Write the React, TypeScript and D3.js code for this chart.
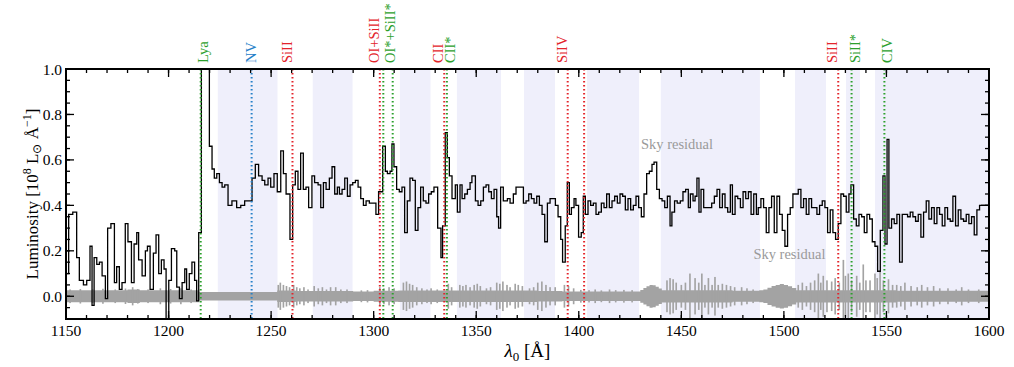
import React from "react";
import * as d3 from "d3";

const W = 1014;
const H = 367;
const M = { left: 66, right: 25, top: 69, bottom: 48 };

// binned spectrum: start wavelength of each bin [Å] and luminosity [1e8 Lsun/Å]
const specWave = [
  1150.0, 1151.3, 1153.3, 1155.2, 1156.5, 1158.5, 1160.1, 1161.7, 1162.7, 1163.7,
  1165.0, 1166.3, 1167.6, 1169.2, 1170.3, 1171.9, 1173.6, 1174.7, 1176.0, 1177.3,
  1178.9, 1180.2, 1181.9, 1183.2, 1184.5, 1185.4, 1187.1, 1188.7, 1189.7, 1191.0,
  1192.6, 1193.9, 1195.2, 1196.5, 1197.8, 1198.8, 1200.1, 1201.4, 1203.0, 1204.0,
  1205.3, 1206.6, 1207.9, 1208.8, 1210.1, 1211.4, 1212.7, 1213.7, 1214.7, 1216.0,
  1219.9, 1221.2, 1222.3, 1223.5, 1224.8, 1226.1, 1227.4, 1229.0, 1230.9, 1233.2,
  1235.2, 1237.1, 1239.1, 1240.7, 1242.3, 1243.9, 1245.6, 1246.9, 1248.5, 1249.8,
  1251.4, 1253.0, 1254.7, 1256.0, 1257.3, 1259.2, 1260.5, 1261.8, 1263.1, 1264.4,
  1265.7, 1267.0, 1268.3, 1269.9, 1271.2, 1272.9, 1274.2, 1275.5, 1276.8, 1278.4,
  1279.7, 1281.0, 1282.3, 1283.3, 1284.6, 1285.9, 1287.2, 1288.5, 1289.8, 1291.1,
  1292.4, 1293.7, 1295.0, 1296.3, 1297.9, 1299.5, 1301.1, 1302.4, 1304.4, 1305.7,
  1306.7, 1308.0, 1308.9, 1309.9, 1311.2, 1312.5, 1313.8, 1315.1, 1316.4, 1317.7,
  1319.0, 1320.3, 1321.6, 1322.9, 1324.2, 1325.5, 1326.8, 1328.1, 1329.4, 1331.2,
  1332.8, 1333.6, 1334.9, 1335.9, 1336.9, 1338.2, 1339.8, 1340.8, 1342.1, 1343.1,
  1344.4, 1345.7, 1347.0, 1347.9, 1349.6, 1350.9, 1352.2, 1353.5, 1354.8, 1356.1,
  1357.4, 1358.7, 1360.0, 1360.9, 1361.9, 1363.2, 1365.2, 1366.5, 1368.1, 1369.4,
  1373.0, 1374.3, 1375.6, 1376.9, 1378.2, 1379.5, 1380.8, 1382.1, 1383.4, 1384.7,
  1386.0, 1387.3, 1388.6, 1389.9, 1391.2, 1392.1, 1393.4, 1394.4, 1395.4, 1396.4,
  1397.7, 1398.6, 1399.9, 1401.2, 1402.2, 1403.2, 1404.5, 1405.8, 1407.1, 1408.4,
  1409.7, 1411.0, 1412.3, 1413.6, 1414.9, 1416.2, 1417.5, 1418.8, 1420.1, 1421.4,
  1422.7, 1424.0, 1425.3, 1426.6, 1427.9, 1429.2, 1430.5, 1431.8, 1433.1, 1434.4,
  1435.7, 1436.7, 1438.0, 1439.3, 1440.6, 1441.9, 1443.2, 1444.5, 1445.4, 1446.7,
  1448.0, 1449.5, 1450.8, 1452.1, 1453.4, 1454.4, 1455.7, 1456.7, 1457.6, 1458.6,
  1459.6, 1460.9, 1462.2, 1463.5, 1464.8, 1466.1, 1467.4, 1468.7, 1470.0, 1471.3,
  1472.6, 1473.9, 1474.9, 1476.2, 1477.5, 1478.8, 1480.1, 1481.4, 1482.7, 1484.0,
  1485.3, 1486.6, 1487.5, 1488.8, 1490.1, 1491.4, 1492.7, 1494.0, 1495.3, 1496.6,
  1497.9, 1499.2, 1500.5, 1501.8, 1503.1, 1504.4, 1505.7, 1507.0, 1508.3, 1509.6,
  1510.9, 1512.2, 1513.5, 1514.8, 1516.1, 1517.4, 1518.7, 1520.0, 1521.3, 1522.6,
  1523.9, 1525.2, 1526.5, 1527.8, 1529.1, 1530.4, 1531.7, 1532.7, 1534.0, 1535.3,
  1536.6, 1537.9, 1539.2, 1540.5, 1541.8, 1543.1, 1544.4, 1545.7, 1547.0, 1548.3,
  1549.3, 1550.3, 1551.2, 1552.5, 1553.8, 1555.1, 1556.4, 1557.7, 1559.0, 1560.3,
  1561.6, 1562.9, 1564.2, 1565.5, 1566.8, 1568.1, 1569.4, 1570.7, 1572.0, 1573.3,
  1574.6, 1575.9, 1577.2, 1578.5, 1579.8, 1581.1, 1582.4, 1583.7, 1585.0, 1586.3,
  1587.6, 1588.9, 1590.2, 1591.5, 1592.8, 1594.1, 1595.4, 1596.7,
];
const specFlux = [
  0.10, 0.36, 0.37, 0.17, 0.07, 0.05, 0.07, 0.22, -0.04, 0.17,
  0.14, 0.15, 0.09, -0.01, 0.30, 0.32, 0.06, 0.13, 0.03, 0.06,
  0.32, 0.24, 0.06, 0.23, 0.28, 0.16, 0.09, 0.20, 0.22, 0.03,
  0.19, 0.27, 0.10, 0.16, 0.12, -0.12, 0.07, 0.21, 0.20, 0.04,
  -0.01, 0.06, 0.12, 0.03, 0.10, 0.15, 0.07, -0.02, 0.28, 1.15,
  0.66, 0.56, 0.52, 0.54, 0.50, 0.48, 0.49, 0.40, 0.42, 0.39,
  0.40, 0.42, 0.42, 0.52, 0.58, 0.53, 0.51, 0.49, 0.52, 0.48,
  0.54, 0.46, 0.64, 0.54, 0.45, 0.25, 0.49, 0.55, 0.47, 0.63,
  0.47, 0.48, 0.39, 0.53, 0.50, 0.49, 0.39, 0.50, 0.47, 0.52,
  0.57, 0.45, 0.48, 0.45, 0.47, 0.52, 0.44, 0.49, 0.50, 0.51,
  0.48, 0.43, 0.40, 0.42, 0.41, 0.41, 0.36, 0.46, 0.66, 0.55,
  0.54, 0.55, 0.67, 0.57, 0.47, 0.46, 0.48, 0.28, 0.42, 0.52,
  0.51, 0.29, 0.39, 0.48, 0.42, 0.41, 0.45, 0.46, 0.48, 0.30,
  0.17, 0.31, 0.72, 0.61, 0.53, 0.43, 0.49, 0.37, 0.49, 0.43,
  0.45, 0.47, 0.50, 0.53, 0.42, 0.40, 0.42, 0.48, 0.49, 0.46,
  0.43, 0.47, 0.35, 0.30, 0.48, 0.42, 0.43, 0.41, 0.45, 0.48,
  0.41, 0.42, 0.45, 0.43, 0.41, 0.44, 0.40, 0.36, 0.24, 0.41,
  0.43, 0.43, 0.40, 0.35, 0.25, 0.15, 0.31, 0.50, 0.36, 0.39,
  0.43, 0.40, 0.26, 0.28, 0.44, 0.36, 0.42, 0.40, 0.41, 0.36,
  0.37, 0.41, 0.39, 0.45, 0.39, 0.42, 0.44, 0.41, 0.45, 0.44,
  0.38, 0.43, 0.38, 0.40, 0.44, 0.39, 0.35, 0.45, 0.54, 0.55,
  0.58, 0.59, 0.47, 0.43, 0.42, 0.39, 0.44, 0.31, 0.37, 0.42,
  0.41, 0.42, 0.46, 0.47, 0.39, 0.45, 0.42, 0.44, 0.52, 0.37,
  0.47, 0.39, 0.39, 0.39, 0.41, 0.44, 0.47, 0.39, 0.45, 0.39,
  0.37, 0.49, 0.36, 0.44, 0.43, 0.39, 0.46, 0.43, 0.46, 0.36,
  0.45, 0.36, 0.39, 0.43, 0.39, 0.28, 0.39, 0.44, 0.28, 0.44,
  0.36, 0.29, 0.22, 0.36, 0.39, 0.45, 0.45, 0.47, 0.39, 0.43,
  0.36, 0.43, 0.39, 0.39, 0.36, 0.40, 0.42, 0.39, 0.28, 0.38,
  0.28, 0.25, 0.32, 0.45, 0.44, 0.37, 0.45, 0.49, 0.34, 0.31,
  0.36, 0.35, 0.28, 0.36, 0.34, 0.24, 0.22, 0.11, 0.29, 0.53,
  0.23, 0.69, 0.30, 0.34, 0.32, 0.36, 0.15, 0.36, 0.36, 0.35,
  0.37, 0.35, 0.33, 0.36, 0.26, 0.37, 0.42, 0.34, 0.39, 0.32,
  0.39, 0.36, 0.31, 0.39, 0.34, 0.33, 0.44, 0.31, 0.38, 0.34,
  0.33, 0.36, 0.32, 0.35, 0.27, 0.38, 0.40, 0.40,
];
const specEnd = 1600;

// error spectrum: smooth level (step starts) plus narrow sky-line spikes
const errWave = [
  1150, 1180, 1186, 1215, 1253, 1262, 1290, 1300, 1312, 1330, 1380, 1392,
  1430, 1431.5, 1433, 1434.5, 1436, 1437.5, 1439, 1440.5, 1475,
  1488, 1490, 1492, 1494, 1496, 1498, 1500, 1502, 1504, 1506, 1555,
];
const errVal = [
  0.026, 0.03, 0.026, 0.019, 0.025, 0.023, 0.021, 0.024, 0.025, 0.025, 0.023, 0.021,
  0.028, 0.036, 0.044, 0.05, 0.048, 0.042, 0.034, 0.027, 0.024,
  0.026, 0.03, 0.038, 0.045, 0.05, 0.054, 0.05, 0.044, 0.036, 0.027, 0.024,
];
const spikeWave = [
  1152, 1157, 1163, 1168, 1174, 1179, 1182.5, 1185, 1190, 1196, 1201, 1206, 1211,
  1253.5, 1254.5, 1256, 1257.5, 1259, 1261, 1262.5, 1264, 1266, 1268,
  1271, 1273, 1275, 1277, 1279, 1281.5, 1284, 1287, 1294, 1297, 1303, 1305, 1307.5, 1310,
  1314.5, 1316, 1317.5, 1319, 1321, 1323.5, 1326, 1328, 1331, 1336.4, 1338, 1342, 1343.5, 1345,
  1347, 1349, 1350.5, 1352, 1355, 1357, 1360, 1361.5, 1363, 1365, 1366.5, 1369, 1370.5,
  1372.5, 1376, 1378, 1380, 1382, 1384, 1386, 1388.5, 1393, 1395, 1397.5, 1401, 1405, 1408,
  1411, 1415, 1418, 1422, 1426,
  1443, 1444.5, 1446, 1447.5, 1450, 1452, 1454.2, 1456.7, 1458.5, 1460, 1461.5, 1463.2,
  1465, 1466.4, 1468, 1470, 1472, 1474, 1476, 1479.4, 1482, 1485, 1507, 1509,
  1511, 1513, 1515, 1516.8, 1518, 1519.2, 1521, 1523.3, 1525, 1527, 1529, 1530,
  1531.4, 1533, 1535.5, 1537, 1538.7, 1540, 1542, 1544.4, 1545.5, 1546.9, 1548.5, 1551,
  1553, 1555, 1557, 1559, 1562, 1565, 1567.2, 1570, 1573, 1576, 1580, 1584, 1586.7,
  1590, 1595,
];
const spikeVal = [
  0.03, 0.032, 0.03, 0.033, 0.03, 0.034, 0.04, 0.032, 0.03, 0.035, 0.032, 0.035, 0.03,
  0.05, 0.06, 0.05, 0.045, 0.04, 0.05, 0.04, 0.035, 0.04, 0.03,
  0.045, 0.035, 0.04, 0.03, 0.04, 0.04, 0.03, 0.03, 0.026, 0.027, 0.04, 0.035, 0.04, 0.035,
  0.06, 0.065, 0.055, 0.05, 0.04, 0.035, 0.03, 0.035, 0.03, 0.055, 0.04, 0.05, 0.045, 0.05,
  0.04, 0.05, 0.055, 0.045, 0.035, 0.04, 0.06, 0.055, 0.065, 0.05, 0.04, 0.055, 0.05,
  0.045, 0.035, 0.04, 0.06, 0.065, 0.05, 0.04, 0.04, 0.05, 0.045, 0.035, 0.028, 0.027, 0.03,
  0.026, 0.03, 0.027, 0.028, 0.027,
  0.07, 0.08, 0.075, 0.06, 0.05, 0.06, 0.10, 0.08, 0.06, 0.10, 0.05, 0.08,
  0.05, 0.085, 0.05, 0.055, 0.05, 0.045, 0.04, 0.04, 0.035, 0.03, 0.05, 0.06,
  0.045, 0.06, 0.07, 0.10, 0.06, 0.09, 0.07, 0.065, 0.08, 0.06, 0.16, 0.09,
  0.10, 0.07, 0.09, 0.06, 0.14, 0.07, 0.07, 0.10, 0.08, 0.11, 0.07, 0.075,
  0.05, 0.05, 0.045, 0.06, 0.045, 0.04, 0.05, 0.04, 0.045, 0.035, 0.035, 0.03, 0.04,
  0.03, 0.03,
];

// shaded windows [start, end] in Å
const bandStart = [1224.0, 1270.3, 1312.8, 1340.6, 1373.3, 1404.0, 1440.0, 1505.4, 1530.3, 1544.4];
const bandEnd = [1253.1, 1289.7, 1327.7, 1362.1, 1388.4, 1429.4, 1488.3, 1520.5, 1537.1, 1600];

// absorption / emission line markers
const lineWave = [1215.67, 1240.5, 1260.42, 1303.0, 1304.7, 1309.28, 1334.4, 1335.7, 1394.6, 1402.6, 1526.5, 1533.0, 1549.0];
const lineKind = ["g", "b", "r", "r", "g", "g", "r", "g", "r", "r", "r", "g", "g"];

const labelText = ["Lya", "NV", "SiII", "OI+SiII", "OI*+SiII*", "CII", "CII*", "SiIV", "SiII", "SiII*", "CIV"];
const labelWave = [1216.8, 1240.05, 1257.7, 1300.2, 1308.0, 1331.2, 1337.2, 1392.0, 1523.6, 1534.7, 1550.4];
const labelKind = ["g", "b", "r", "r", "g", "r", "g", "r", "r", "g", "g"];

const noteText = ["Sky residual", "Sky residual"];
const noteWave = [1447.9, 1502.7];
const noteFlux = [0.648, 0.163];

const kindColor: Record<string, string> = { g: "#2ca02c", b: "#2680c8", r: "#e3242b" };
const FONT = "Liberation Serif";

export default function App() {
  const x = d3.scaleLinear().domain([1150, 1600]).range([M.left, W - M.right]);
  const y = d3.scaleLinear().domain([-0.1, 1.0]).range([H - M.bottom, M.top]);
  const [x0, x1] = x.range();
  const [yb, yt] = y.range();

  const specPts: [number, number][] = specWave.map((w, i) => [w, specFlux[i]]);
  specPts.push([specEnd, specFlux[specFlux.length - 1]]);
  const specLine = d3
    .line<[number, number]>()
    .x((d) => x(d[0]))
    .y((d) => y(d[1]))
    .curve(d3.curveStepAfter);

  const errPts: [number, number][] = errWave.map((w, i) => [w, errVal[i]]);
  errPts.push([1600, errVal[errVal.length - 1]]);
  const errArea = d3
    .area<[number, number]>()
    .x((d) => x(d[0]))
    .y0((d) => y(-d[1]))
    .y1((d) => y(d[1]))
    .curve(d3.curveStepAfter);

  const xMajor = d3.range(1150, 1601, 50);
  const xMinor = d3.range(1150, 1601, 10);
  const yMajor = d3.range(0, 1.01, 0.2);
  const yMinor = d3.range(-0.1, 1.001, 0.05);

  return (
    <svg
      width={W}
      height={H}
      style={{ position: "absolute", left: 0, top: 0, background: "#fff", fontFamily: FONT }}
    >
      <defs>
        <clipPath id="plot">
          <rect x={x0} y={yt} width={x1 - x0} height={yb - yt} />
        </clipPath>
      </defs>

      <g clipPath="url(#plot)">
        {bandStart.map((s, i) => (
          <rect key={"b" + i} x={x(s)} y={yt} width={x(bandEnd[i]) - x(s)} height={yb - yt} fill="#efeffb" />
        ))}
        <path d={errArea(errPts) || ""} fill="#a3a3a3" />
        {spikeWave.map((w, i) => (
          <rect
            key={"s" + i}
            x={x(w - 0.4)}
            width={x(w + 0.4) - x(w - 0.4)}
            y={y(spikeVal[i])}
            height={y(-spikeVal[i]) - y(spikeVal[i])}
            fill="#a3a3a3"
          />
        ))}
        <path d={specLine(specPts) || ""} fill="none" stroke="#000" strokeWidth={1.3} />
        {lineWave.map((w, i) => (
          <line
            key={"l" + i}
            x1={x(w)}
            x2={x(w)}
            y1={yt}
            y2={yb}
            stroke={kindColor[lineKind[i]]}
            strokeWidth={2}
            strokeDasharray="1.6,2.4"
          />
        ))}
      </g>

      {noteText.map((t, i) => (
        <text key={"n" + i} x={x(noteWave[i])} y={y(noteFlux[i])} textAnchor="middle" fontSize={14.5} fill="#9a9a9a">
          {t}
        </text>
      ))}

      {labelText.map((t, i) => (
        <text
          key={"t" + i}
          transform={`translate(${x(labelWave[i])},${yt - 6}) rotate(-90)`}
          dominantBaseline="central"
          fontSize={14.5}
          fill={kindColor[labelKind[i]]}
        >
          {t}
        </text>
      ))}

      {/* ticks on all four sides, pointing inwards */}
      <g stroke="#000" strokeWidth={1.3}>
        {xMinor.map((v) => (
          <g key={"xm" + v}>
            <line x1={x(v)} x2={x(v)} y1={yb} y2={yb - 4} />
            <line x1={x(v)} x2={x(v)} y1={yt} y2={yt + 4} />
          </g>
        ))}
        {xMajor.map((v) => (
          <g key={"xM" + v}>
            <line x1={x(v)} x2={x(v)} y1={yb} y2={yb - 8} />
            <line x1={x(v)} x2={x(v)} y1={yt} y2={yt + 8} />
          </g>
        ))}
        {yMinor.map((v) => (
          <g key={"ym" + v}>
            <line x1={x0} x2={x0 + 4} y1={y(v)} y2={y(v)} />
            <line x1={x1} x2={x1 - 4} y1={y(v)} y2={y(v)} />
          </g>
        ))}
        {yMajor.map((v) => (
          <g key={"yM" + v}>
            <line x1={x0} x2={x0 + 8} y1={y(v)} y2={y(v)} />
            <line x1={x1} x2={x1 - 8} y1={y(v)} y2={y(v)} />
          </g>
        ))}
      </g>
      <rect x={x0} y={yt} width={x1 - x0} height={yb - yt} fill="none" stroke="#000" strokeWidth={2} />

      {xMajor.map((v) => (
        <text key={"xl" + v} x={x(v)} y={yb + 17} textAnchor="middle" fontSize={15.5}>
          {v}
        </text>
      ))}
      {yMajor.map((v) => (
        <text key={"yl" + v} x={x0 - 4} y={y(v)} textAnchor="end" dominantBaseline="central" fontSize={15.5}>
          {d3.format(".1f")(v)}
        </text>
      ))}

      <text x={(x0 + x1) / 2} y={yb + 38} textAnchor="middle" fontSize={19}>
        <tspan fontStyle="italic">λ</tspan>
        <tspan fontSize={13} dy={4}>0</tspan>
        <tspan dy={-4}> [Å]</tspan>
      </text>

      <text
        transform={`translate(${x0 - 28},${(yt + yb) / 2}) rotate(-90)`}
        textAnchor="middle"
        fontSize={17}
      >
        Luminosity [10<tspan fontSize={12} dy={-7}>8</tspan>
        <tspan dy={7}> L</tspan>
        <tspan fontSize={12} dy={3}>⊙</tspan>
        <tspan dy={-3}> Å</tspan>
        <tspan fontSize={12} dy={-7}>−1</tspan>
        <tspan dy={7}>]</tspan>
      </text>
    </svg>
  );
}
